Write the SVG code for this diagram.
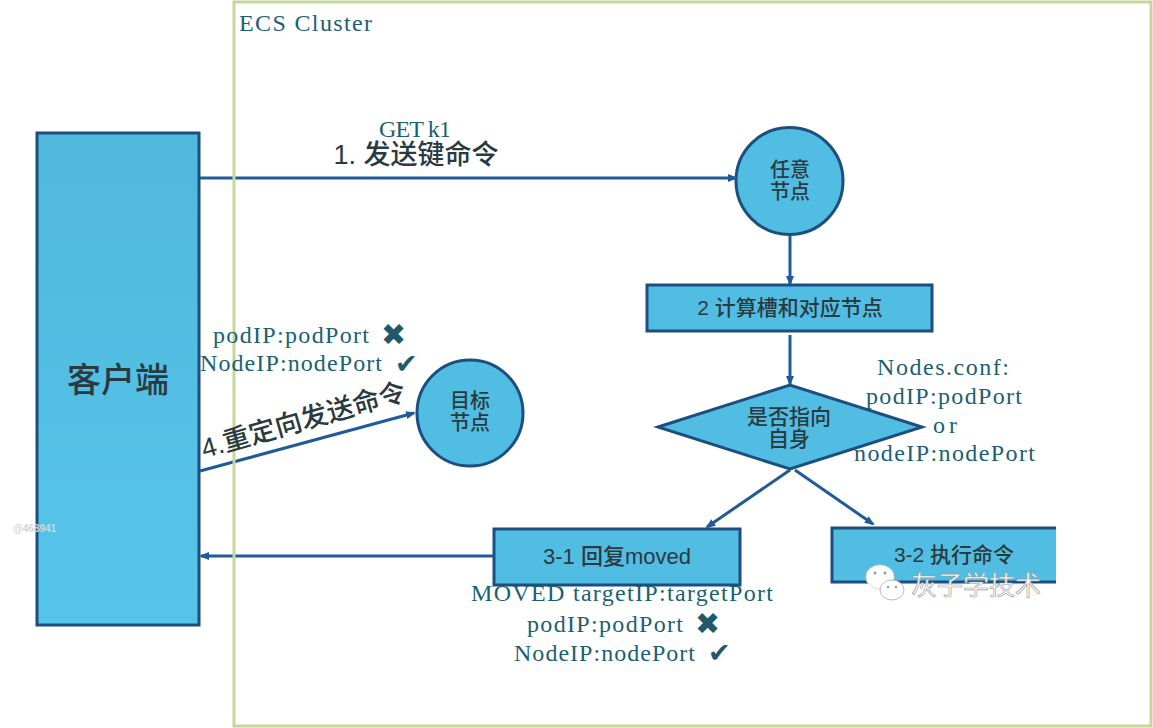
<svg xmlns="http://www.w3.org/2000/svg" width="1153" height="728" viewBox="0 0 1153 728">
<style>
.shape{fill:#52bde2;stroke:#1c4f80;stroke-width:3}
.cn{font-family:"Liberation Sans","Noto Sans CJK SC",sans-serif;fill:#2a3a40;text-anchor:middle;font-weight:500}
.mono{font-family:"Liberation Serif","Noto Serif",serif;font-size:24px;fill:#1c5f72}
.sym{font-family:"DejaVu Sans",sans-serif;fill:#215968}
.x{font-size:30px}
.ok{font-size:27px}
.conn{stroke:#1f5a9a;stroke-width:3;fill:none;marker-end:url(#arrow)}
</style>
<defs>
<marker id="arrow" markerWidth="10" markerHeight="8" refX="8" refY="4" orient="auto" markerUnits="userSpaceOnUse"><path d="M0 0L10 4L0 8Z" fill="#1f5a9a"/></marker>
<linearGradient id="clientFill" x1="0" y1="0" x2="0" y2="1"><stop offset="0" stop-color="#50b8dc"/><stop offset="1" stop-color="#56c5ea"/></linearGradient>
</defs>
<rect width="1153" height="728" fill="#fff"/>
<g id="client"><rect class="shape" x="37" y="133" width="162" height="492" style="fill:url(#clientFill)"/><text class="cn" x="118" y="392" font-size="34">客户端</text></g>
<g id="any-node"><circle class="shape" cx="789.5" cy="181" r="53.5"/><text class="cn" x="790" y="177" font-size="20">任意</text><text class="cn" x="790" y="199" font-size="20">节点</text></g>
<g id="compute"><rect class="shape" x="647" y="285" width="285" height="46"/><text class="cn" x="790" y="315" font-size="21">2 计算槽和对应节点</text></g>
<g id="decision"><polygon class="shape" points="658,427 790,385 922,427 790,469"/><text class="cn" x="789" y="424" font-size="21">是否指向</text><text class="cn" x="789" y="446" font-size="21">自身</text></g>
<g id="target-node"><circle class="shape" cx="470" cy="413" r="53"/><text class="cn" x="470" y="408" font-size="20">目标</text><text class="cn" x="470" y="430" font-size="20">节点</text></g>
<g id="reply-moved"><rect class="shape" x="494" y="529" width="246" height="56"/><text class="cn" x="617" y="564" font-size="22">3-1 回复moved</text></g>
<g id="execute"><path d="M1056 528H832V582H1056Z" fill="#52bde2"/><path d="M1056 528H832V582H1056" fill="none" stroke="#1c4f80" stroke-width="3"/><text class="cn" x="954" y="562" font-size="21">3-2 执行命令</text></g>
<g id="connectors">
<line class="conn" x1="200" y1="178" x2="736" y2="178"/>
<line class="conn" x1="790" y1="236" x2="790" y2="284"/>
<line class="conn" x1="790" y1="335" x2="790" y2="384"/>
<line class="conn" x1="790" y1="470" x2="707" y2="527"/>
<line class="conn" x1="795" y1="470" x2="873" y2="524"/>
<line class="conn" x1="494" y1="556" x2="201" y2="556"/>
<line class="conn" x1="200" y1="471" x2="414" y2="413"/>
</g>
<rect id="cluster" x="234" y="2" width="917" height="724" fill="none" stroke="#c5d79a" stroke-width="3"/>
<g id="labels">
<text class="mono" x="239" y="31" textLength="133">ECS Cluster</text>
<text class="mono" x="379" y="137" textLength="72">GET k1</text>
<text class="cn" x="416" y="164" font-size="27">1. 发送键命令</text>
<text class="cn" transform="translate(306 429) rotate(-16)" font-size="27">4.重定向发送命令</text>
<text class="mono" x="213" y="343" textLength="156">podIP:podPort</text>
<text class="sym x" x="381" y="345">✖</text>
<text class="mono" x="200" y="371" textLength="182">NodeIP:nodePort</text>
<text class="sym ok" x="395" y="373">✔</text>
<text class="mono" x="877" y="375" textLength="132">Nodes.conf:</text>
<text class="mono" x="866" y="404" textLength="156">podIP:podPort</text>
<text class="mono" x="933" y="433" textLength="24">or</text>
<text class="mono" x="854" y="461" textLength="181">nodeIP:nodePort</text>
<text class="mono" x="471" y="601" textLength="302">MOVED targetIP:targetPort</text>
<text class="mono" x="527" y="632" textLength="156">podIP:podPort</text>
<text class="sym x" x="695" y="634">✖</text>
<text class="mono" x="514" y="661" textLength="181">NodeIP:nodePort</text>
<text class="sym ok" x="708" y="662">✔</text>
</g>
<g id="watermark">
<text x="13" y="532" font-family="Liberation Sans,sans-serif" font-size="10" font-weight="bold" fill="#d4d4d4">@468941</text>
<ellipse cx="880" cy="577" rx="14" ry="12" fill="#fff" stroke="#ddd"/>
<circle cx="875" cy="573" r="1.5" fill="#999"/><circle cx="885" cy="573" r="1.5" fill="#999"/>
<ellipse cx="892" cy="590" rx="12" ry="10" fill="#fff" stroke="#bbb"/>
<circle cx="888" cy="587" r="1.2" fill="#999"/><circle cx="896" cy="587" r="1.2" fill="#999"/>
<text x="911" y="595" font-family="Noto Sans CJK SC,sans-serif" font-size="26" fill="#fff" stroke="#999" stroke-width=".6">灰子学技术</text>
</g>
</svg>
